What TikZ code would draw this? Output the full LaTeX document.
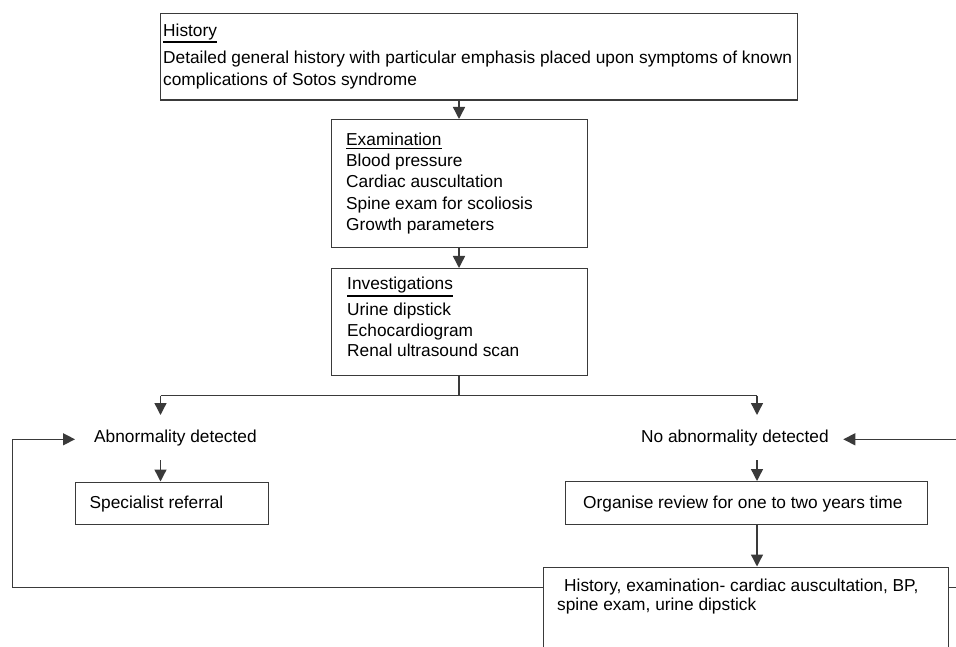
\documentclass[tikz,border=0pt]{standalone}
\usepackage{fontspec}
\setmainfont{Liberation Sans}
\usetikzlibrary{arrows.meta}
\definecolor{lc}{RGB}{58,58,58}
\begin{document}
\begin{tikzpicture}[x=1pt,y=-1pt,
  box/.style={draw=lc,line width=1.4pt,rectangle,inner sep=0pt,anchor=north west},
  txt/.style={anchor=base west,inner sep=0pt,font=\fontsize{17.3}{20}\selectfont,text=black},
  htxt/.style={txt,font=\fontsize{17.3}{20}\selectfont},
  conn/.style={draw=lc,line width=1.4pt},
  arr/.style={conn,-{Triangle[length=12pt,width=12pt]}},
  uline/.style={draw=black,line width=1.1pt}]
\useasboundingbox (0,0) rectangle (956,647);
\fill[white] (0,0) rectangle (956,647);
\clip (0,0) rectangle (956,647);

% boxes
\node[box,minimum width=637pt,minimum height=86.5pt] (hist) at (160,13) {};
\node[box,minimum width=256pt,minimum height=128pt] (exam) at (331,119) {};
\node[box,minimum width=256pt,minimum height=107pt] (inv) at (331,268) {};
\node[box,minimum width=193pt,minimum height=42.5pt] (spec) at (75,481.5) {};
\node[box,minimum width=362pt,minimum height=43pt] (org) at (565,481) {};
\node[box,minimum width=405pt,minimum height=140pt] (fin) at (543,566.5) {};

% texts
\node[htxt] (h0) at (163,36.7) {History};
\node[htxt] (h1) at (163,63.3) {Detailed general history with particular emphasis placed upon symptoms of known};
\node[htxt] (h2) at (163,86) {complications of Sotos syndrome};
\draw[uline] ([yshift=-5.3pt]h0.base west) -- ([yshift=-5.3pt]h0.base east);

\node[txt] (e0) at (346,145.7) {Examination};
\node[txt] (e1) at (346,166.7) {Blood pressure};
\node[txt] (e2) at (346,187.7) {Cardiac auscultation};
\node[txt] (e3) at (346,209.3) {Spine exam for scoliosis};
\node[txt] (e4) at (346,230.7) {Growth parameters};
\draw[uline] ([yshift=-3pt]e0.base west) -- ([yshift=-3pt]e0.base east);

\node[txt] (i0) at (347,290) {Investigations};
\node[txt] (i1) at (347,315.7) {Urine dipstick};
\node[txt] (i2) at (347,336) {Echocardiogram};
\node[txt] (i3) at (347,356.7) {Renal ultrasound scan};
\draw[uline] ([yshift=-6pt]i0.base west) -- ([yshift=-6pt]i0.base east);

\node[txt] (abn) at (94,442.7) {Abnormality detected};
\node[txt] (nab) at (641,442.7) {No abnormality detected};
\node[txt] (s0) at (89.5,508.3) {Specialist referral};
\node[txt] (o0) at (583,508.3) {Organise review for one to two years time};
\node[txt] (f0) at (564,591.7) {History, examination- cardiac auscultation, BP,};
\node[txt] (f1) at (557,610) {spine exam, urine dipstick};

% junction coordinates
\coordinate (mx) at (459,0);
\coordinate (jm) at (459,395.7);
\coordinate (jL) at (160.5,395.7);
\coordinate (jR) at (757,395.7);
\coordinate (tL) at (160.5,415);
\coordinate (tR) at (757,415);
\coordinate (uL) at (160.5,460);
\coordinate (uR) at (757,460);
\coordinate (lp) at (12.3,587.3);
\coordinate (lq) at (12.3,439.3);
\coordinate (lt) at (75,439.3);
\coordinate (rp) at (958,587.3);
\coordinate (rq) at (958,439.3);
\coordinate (rt) at (843.3,439.3);

% connectors
\draw[arr] (hist.south -| mx) -- (exam.north -| mx);
\draw[arr] (exam.south -| mx) -- (inv.north -| mx);
\draw[conn] (inv.south -| mx) -- (jm);
\draw[conn] (jL) -- (jR);
\draw[arr] (jL) -- (tL);
\draw[arr] (jR) -- (tR);
\draw[arr] (uL) -- (uL |- spec.north);
\draw[arr] (uR) -- (uR |- org.north);
\draw[arr] (org.south -| uR) -- (fin.north -| uR);
\draw[arr] (fin.west |- lp) -- (lp) -- (lq) -- (lt);
\draw[arr] (fin.east |- rp) -- (rp) -- (rq) -- (rt);
\end{tikzpicture}
\end{document}
